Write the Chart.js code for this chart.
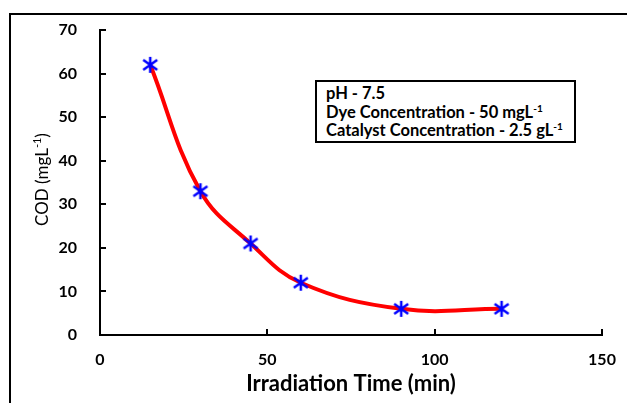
<!DOCTYPE html>
<html lang="en">
  <head>
    <meta charset="UTF-8" />
    <title>COD vs Irradiation Time</title>
    <style>
      body {
        margin: 0;
        padding: 0;
        background-color: #fff;
        font-family: Lato, Arial, sans-serif;
      }

      .wrap {
        position: relative;
        width: 627px;
        height: 403px;
        overflow: hidden;
      }

      .frame {
        position: absolute;
        left: 9px;
        top: 13px;
        width: 700px;
        height: 500px;
        border: 2px solid #000;
        pointer-events: none;
      }

      .note {
        position: absolute;
        left: 315px;
        top: 80px;
        width: 261px;
        height: 63px;
        border: 2px solid #000;
        background: #fff;
        box-sizing: border-box;
        padding: 2px 0 0 9px;
        font-family: Lato, sans-serif;
        font-weight: bold;
        font-size: 16.5px;
        line-height: 18.5px;
        color: #000;
        white-space: nowrap;
      }

      .note sup {
        font-size: 10px;
        line-height: 0;
      }
    </style>
  </head>
  <body>
    <div class="wrap">
      <canvas id="codChart" width="627" height="403"></canvas>
      <div class="frame"></div>
      <div class="note">
        pH - 7.5<br />
        Dye Concentration - 50 mgL<sup>-1</sup><br />
        Catalyst Concentration - 2.5 gL<sup>-1</sup>
      </div>
    </div>

    <script src="https://cdn.jsdelivr.net/npm/chart.js"></script>
    <script>
      const times = [15, 30, 45, 60, 90, 120];
      const cod = [62, 33, 21, 12, 6, 6];
      const xTicks = [0, 50, 100, 150];
      const yTicks = [0, 10, 20, 30, 40, 50, 60, 70];

      document.addEventListener("DOMContentLoaded", function () {
        const ctx = document.getElementById("codChart").getContext("2d");

        // asterisk marker: vertical bar plus an X
        const star = document.createElement("canvas");
        star.width = 18;
        star.height = 18;
        const s = star.getContext("2d");
        s.strokeStyle = "#0000ff";
        s.lineWidth = 2.5;
        s.beginPath();
        s.moveTo(9, 1);
        s.lineTo(9, 17);
        s.moveTo(2, 4);
        s.lineTo(16, 14);
        s.moveTo(2, 14);
        s.lineTo(16, 4);
        s.stroke();

        // ticks drawn inside the plot, like the original
        const innerTicks = {
          id: "innerTicks",
          afterDatasetsDraw(chart) {
            const c = chart.ctx;
            const xs = chart.scales.x;
            const ys = chart.scales.y;
            const area = chart.chartArea;
            c.save();
            c.strokeStyle = "#000";
            c.lineWidth = 2;
            c.beginPath();
            yTicks.forEach((v) => {
              if (v === 0) return;
              const py = Math.round(ys.getPixelForValue(v));
              c.moveTo(area.left, py);
              c.lineTo(area.left + 6, py);
            });
            xTicks.forEach((v) => {
              if (v === 0) return;
              const px = Math.round(xs.getPixelForValue(v));
              c.moveTo(px, area.bottom);
              c.lineTo(px, area.bottom - 6);
            });
            c.stroke();
            c.restore();
          },
        };

        // y title with a real superscript
        const yTitle = {
          id: "yTitle",
          afterDraw(chart) {
            const c = chart.ctx;
            const area = chart.chartArea;
            const main = "COD (mgL";
            const sup = "-1";
            const end = ")";
            c.save();
            c.fillStyle = "#000";
            c.font = "17px Lato";
            const w1 = c.measureText(main).width;
            const w3 = c.measureText(end).width;
            c.font = "11px Lato";
            const w2 = c.measureText(sup).width;
            const total = w1 + w2 + w3;
            c.translate(43, (area.top + area.bottom) / 2 - 3);
            c.rotate(-Math.PI / 2);
            c.textBaseline = "middle";
            c.textAlign = "left";
            let x = -total / 2;
            c.font = "17px Lato";
            c.fillText(main, x, 0);
            x += w1;
            c.font = "11px Lato";
            c.fillText(sup, x, -6);
            x += w2;
            c.font = "17px Lato";
            c.fillText(end, x, 0);
            c.restore();
          },
        };

        const tickFont = { family: "Lato", size: 16, weight: "bold" };

        new Chart(ctx, {
          type: "line",
          data: {
            datasets: [
              {
                data: times.map((t, i) => ({ x: t, y: cod[i] })),
                borderColor: "#ff0000",
                borderWidth: 4,
                tension: 0.4,
                fill: false,
                pointStyle: star,
                pointRadius: 9,
              },
            ],
          },
          options: {
            responsive: false,
            animation: false,
            clip: false,
            layout: {
              padding: { top: 30, right: 25, left: 0, bottom: 0 },
            },
            plugins: {
              legend: { display: false },
              tooltip: { enabled: false },
            },
            scales: {
              x: {
                type: "linear",
                min: 0,
                max: 150,
                afterBuildTicks: (axis) => {
                  axis.ticks = xTicks.map((v) => ({ value: v }));
                },
                afterFit: (axis) => {
                  axis.height = 68;
                },
                grid: { display: false },
                border: { display: true, color: "#000", width: 2 },
                ticks: { color: "#000", font: tickFont, padding: 7 },
                title: {
                  display: true,
                  text: "Irradiation Time (min)",
                  color: "#000",
                  font: { family: "Lato", size: 22, weight: "bold" },
                  padding: { top: 2, bottom: 6 },
                },
              },
              y: {
                min: 0,
                max: 70,
                afterBuildTicks: (axis) => {
                  axis.ticks = yTicks.map((v) => ({ value: v }));
                },
                afterFit: (axis) => {
                  axis.width = 100;
                },
                grid: { display: false },
                border: { display: true, color: "#000", width: 2 },
                ticks: { color: "#000", font: tickFont, padding: 15 },
              },
            },
          },
          plugins: [innerTicks, yTitle],
        });
      });
    </script>
  </body>
</html>
